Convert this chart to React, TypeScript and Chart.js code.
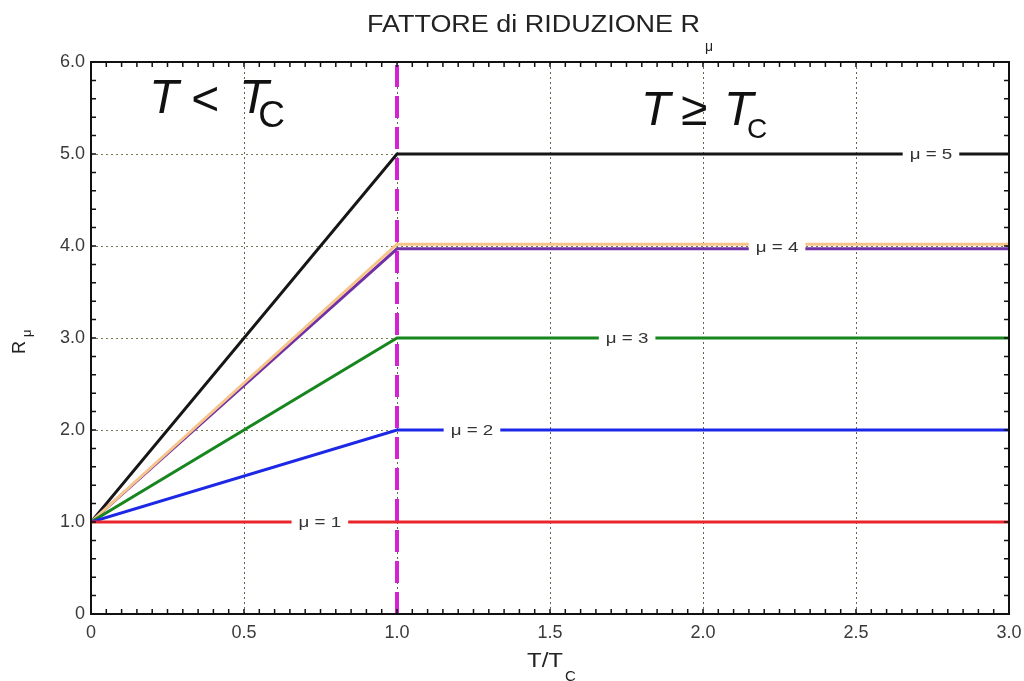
import React, { useEffect, useRef } from "react";
import { Chart, registerables } from "chart.js";

Chart.register(...registerables);

// ---- data ----
const periodRatio = [0, 1, 3];
const mu1 = [1, 1, 1];
const mu2 = [1, 2, 2];
const mu3 = [1, 3, 3];
const mu4Upper = [1, 4.02, 4.02];
const mu4 = [1, 3.97, 3.97];
const mu5 = [1, 5, 5];
const tcLineX = [1, 1];
const tcLineY = [0, 6];
const curveLabels = ["μ = 1", "μ = 2", "μ = 3", "μ = 4", "μ = 5"];
const curveLabelX = [0.748, 1.245, 1.752, 2.242, 2.745];
const curveLabelY = [1, 2, 3, 3.995, 5];
const xTickValues = [0, 0.5, 1, 1.5, 2, 2.5, 3];
const yTickValues = [0, 1, 2, 3, 4, 5, 6];

const FONT = "'Liberation Sans', Arial, sans-serif";

const toPts = (xs: number[], ys: number[]) => xs.map((x, i) => ({ x, y: ys[i] }));

const fmt = (v: number) => (v === 0 ? "0" : v.toFixed(1));

const overlayPlugin = {
  id: "overlay",
  afterDatasetsDraw(chart: any) {
    const ctx = chart.ctx;
    const xs = chart.scales.x;
    const ys = chart.scales.y;
    ctx.save();
    ctx.font = `15px ${FONT}`;
    ctx.textBaseline = "middle";
    ctx.textAlign = "center";
    const sx = 1.25;
    curveLabels.forEach((t, i) => {
      const px = xs.getPixelForValue(curveLabelX[i]);
      const py = ys.getPixelForValue(curveLabelY[i]);
      const w = ctx.measureText(t).width * sx + 14;
      ctx.fillStyle = "#ffffff";
      ctx.fillRect(px - w / 2, py - 7, w, 14);
      ctx.save();
      ctx.translate(px, py + 1);
      ctx.scale(sx, 1);
      ctx.fillStyle = "#333333";
      ctx.fillText(t, 0, 0);
      ctx.restore();
    });
    ctx.restore();
  },
  afterDraw(chart: any) {
    const ctx = chart.ctx;
    const xs = chart.scales.x;
    const ys = chart.scales.y;
    const { left, right, top, bottom } = chart.chartArea;
    ctx.save();
    // frame
    ctx.strokeStyle = "#111";
    ctx.lineWidth = 2;
    ctx.strokeRect(left, top, right - left, bottom - top);
    // minor ticks
    ctx.lineWidth = 1.5;
    ctx.beginPath();
    for (let i = 0; i <= 60; i++) {
      const px = xs.getPixelForValue(i * 0.05);
      ctx.moveTo(px, bottom);
      ctx.lineTo(px, bottom - 5);
      ctx.moveTo(px, top);
      ctx.lineTo(px, top + 5);
    }
    for (let i = 0; i <= 30; i++) {
      const py = ys.getPixelForValue(i * 0.2);
      ctx.moveTo(left, py);
      ctx.lineTo(left + 5, py);
      ctx.moveTo(right, py);
      ctx.lineTo(right - 5, py);
    }
    ctx.stroke();

    // big annotations
    ctx.fillStyle = "#111";
    ctx.textAlign = "left";
    ctx.textBaseline = "alphabetic";
    const drawRegion = (
      xv: number,
      yv: number,
      op: string,
      opDx: number,
      opDy: number,
      t2Dx: number,
      cDx: number,
      cSize: number,
      cDy: number
    ) => {
      const px = xs.getPixelForValue(xv);
      const py = ys.getPixelForValue(yv);
      ctx.font = `italic 48px ${FONT}`;
      ctx.fillText("T", px, py);
      ctx.font = `48px ${FONT}`;
      ctx.fillText(op, px + opDx, py + opDy);
      ctx.font = `italic 48px ${FONT}`;
      ctx.fillText("T", px + t2Dx, py);
      ctx.font = `${cSize}px ${FONT}`;
      ctx.fillText("C", px + cDx, py + cDy);
    };
    drawRegion(0.19, 5.45, "<", 42, 2, 90, 109, 37, 14);
    drawRegion(1.797, 5.32, "≥", 40, 0, 83, 106, 28, 13);

    // title
    ctx.fillStyle = "#222";
    ctx.font = `23px ${FONT}`;
    const title = "FATTORE di RIDUZIONE R";
    const tw = ctx.measureText(title).width;
    ctx.save();
    ctx.translate(367, 32);
    ctx.scale(333 / tw, 1);
    ctx.fillText(title, 0, 0);
    ctx.restore();
    ctx.font = `14px ${FONT}`;
    ctx.fillText("μ", 705, 51);

    // x axis title
    ctx.font = `20px ${FONT}`;
    const xt = "T/T";
    const xw = ctx.measureText(xt).width;
    ctx.save();
    ctx.translate(527, 667);
    ctx.scale(36 / xw, 1);
    ctx.fillText(xt, 0, 0);
    ctx.restore();
    ctx.font = `15px ${FONT}`;
    ctx.fillText("C", 565, 681);

    // y axis title
    ctx.save();
    ctx.translate(25, 354);
    ctx.rotate(-Math.PI / 2);
    ctx.font = `18px ${FONT}`;
    ctx.fillText("R", 0, 0);
    const rw = ctx.measureText("R").width;
    ctx.font = `13px ${FONT}`;
    ctx.fillText("μ", rw + 4, 6);
    ctx.restore();

    ctx.restore();
  },
};

export default function App() {
  const ref = useRef<HTMLCanvasElement | null>(null);
  useEffect(() => {
    if (!ref.current) return;
    const line = (data: any, color: string, width = 3, extra: any = {}) => ({
      data,
      borderColor: color,
      borderWidth: width,
      pointRadius: 0,
      fill: false,
      tension: 0,
      ...extra,
    });
    const chart = new Chart(ref.current, {
      type: "line",
      data: {
        datasets: [
          line(toPts(periodRatio, mu1), "#e8242c"),
          line(toPts(periodRatio, mu2), "#1c28e6"),
          line(toPts(periodRatio, mu3), "#17861f"),
          line(toPts(periodRatio, mu4Upper), "#f7c48a", 3),
          line(toPts(periodRatio, mu4), "#7030a6", 3),
          line(toPts(periodRatio, mu5), "#161616"),
          line(toPts(tcLineX, tcLineY), "#d224d2", 4, { borderDash: [22, 9] }),
        ] as any,
      },
      options: {
        responsive: false,
        animation: false,
        layout: { padding: { top: 62, right: 15, left: 0, bottom: 0 } },
        plugins: { legend: { display: false }, tooltip: { enabled: false }, title: { display: false } },
        scales: {
          x: {
            type: "linear",
            min: 0,
            max: 3,
            afterBuildTicks: (s: any) => {
              s.ticks = xTickValues.map((v) => ({ value: v }));
            },
            afterFit: (s: any) => {
              s.height = 67;
              s.paddingLeft = 0;
              s.paddingRight = 0;
            },
            ticks: {
              callback: (v: any) => fmt(Number(v)),
              font: { family: FONT, size: 18 },
              color: "#3a3a3a",
              padding: 8,
              maxRotation: 0,
              autoSkip: false,
            },
            grid: { color: "#66664e", lineWidth: 1, drawTicks: false, borderDash: [2, 3] } as any,
            border: { display: false, dash: [2, 3] },
          },
          y: {
            type: "linear",
            min: 0,
            max: 6,
            afterBuildTicks: (s: any) => {
              s.ticks = yTickValues.map((v) => ({ value: v }));
            },
            afterFit: (s: any) => {
              s.width = 91;
              s.paddingTop = 0;
              s.paddingBottom = 0;
            },
            ticks: {
              callback: (v: any) => fmt(Number(v)),
              font: { family: FONT, size: 18 },
              color: "#3a3a3a",
              padding: 6,
              autoSkip: false,
            },
            grid: { color: "#7a7a52", lineWidth: 1, drawTicks: false, borderDash: [2, 3] } as any,
            border: { display: false, dash: [2, 3] },
          },
        },
      } as any,
      plugins: [overlayPlugin],
    });
    return () => chart.destroy();
  }, []);
  return (
    <div style={{ position: "absolute", left: 0, top: 0, width: 1024, height: 681, background: "#fff" }}>
      <canvas ref={ref} width={1024} height={681} style={{ width: 1024, height: 681, display: "block" }} />
    </div>
  );
}
